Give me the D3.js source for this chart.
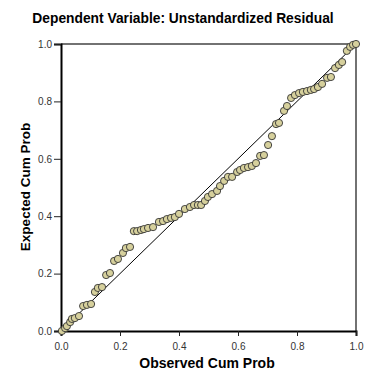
<!DOCTYPE html>
<html>
<head>
<meta charset="utf-8">
<script src="https://cdn.jsdelivr.net/npm/d3@7"></script>
<style>
  body { margin: 0; background: #fff; }
  text { font-family: "Liberation Sans", Arial, sans-serif; }
</style>
</head>
<body>
<svg id="chart" width="365" height="371"></svg>
<script>
const title = "Dependent Variable: Unstandardized Residual";
const xLabel = "Observed Cum Prob";
const yLabel = "Expected Cum Prob";
const ticks = [0, 0.2, 0.4, 0.6, 0.8, 1.0];

// observed / expected cumulative probabilities
const observed = [0.003, 0.014, 0.020, 0.031, 0.037, 0.047, 0.061, 0.075, 0.088, 0.102,
  0.115, 0.125, 0.139, 0.153, 0.166, 0.180, 0.193, 0.210, 0.220, 0.234,
  0.247, 0.258, 0.271, 0.281, 0.295, 0.312, 0.332, 0.346, 0.359, 0.373,
  0.386, 0.400, 0.420, 0.437, 0.451, 0.464, 0.475, 0.488, 0.498, 0.512,
  0.529, 0.539, 0.553, 0.566, 0.580, 0.597, 0.607, 0.620, 0.634, 0.647,
  0.661, 0.675, 0.688, 0.702, 0.715, 0.729, 0.739, 0.756, 0.766, 0.780,
  0.793, 0.807, 0.820, 0.834, 0.847, 0.858, 0.871, 0.885, 0.902, 0.915,
  0.929, 0.942, 0.953, 0.969, 0.980, 0.990, 1.000];
const expected = [0.000, 0.010, 0.017, 0.031, 0.042, 0.045, 0.052, 0.087, 0.091, 0.094,
  0.136, 0.150, 0.153, 0.195, 0.202, 0.244, 0.251, 0.272, 0.289, 0.293,
  0.348, 0.348, 0.352, 0.355, 0.359, 0.362, 0.380, 0.383, 0.390, 0.394,
  0.397, 0.408, 0.425, 0.432, 0.439, 0.439, 0.439, 0.453, 0.467, 0.477,
  0.488, 0.505, 0.523, 0.537, 0.537, 0.554, 0.561, 0.568, 0.571, 0.575,
  0.585, 0.610, 0.613, 0.648, 0.679, 0.721, 0.725, 0.767, 0.784, 0.812,
  0.822, 0.829, 0.833, 0.836, 0.840, 0.843, 0.850, 0.861, 0.882, 0.885,
  0.916, 0.927, 0.937, 0.976, 0.990, 0.997, 1.000];

const plotLeft = 61, plotRight = 356, plotTop = 44, plotBottom = 331;
const svg = d3.select("#chart");

const x = d3.scaleLinear().domain([0, 1]).range([plotLeft, plotRight]);
const y = d3.scaleLinear().domain([0, 1]).range([plotBottom, plotTop]);

// title
svg.append("text")
  .attr("x", 183).attr("y", 23)
  .attr("text-anchor", "middle")
  .style("font-size", "13.8px").style("font-weight", "bold")
  .text(title);

// frame top/right
svg.append("path")
  .attr("d", `M${plotLeft},${plotTop}H${plotRight}V${plotBottom}`)
  .attr("fill", "none").attr("stroke", "#444").attr("stroke-width", 1.5);

// axes
const xAxis = svg.append("g")
  .attr("transform", "translate(0," + plotBottom + ")")
  .call(d3.axisBottom(x).tickValues(ticks).tickFormat(d3.format(".1f")).tickSize(5).tickPadding(7));
const yAxis = svg.append("g")
  .attr("transform", "translate(" + plotLeft + ",0)")
  .call(d3.axisLeft(y).tickValues(ticks).tickFormat(d3.format(".1f")).tickSize(7).tickPadding(2));

[xAxis, yAxis].forEach(g => {
  g.select(".domain").attr("stroke", "#000").attr("stroke-width", 2);
  g.selectAll(".tick line").attr("stroke", "#222").attr("stroke-width", 1);
  g.selectAll(".tick text")
    .style("font-family", "'Liberation Sans', Arial, sans-serif")
    .style("font-size", "10px").attr("fill", "#333");
});

// reference diagonal
svg.append("line")
  .attr("x1", x(0)).attr("y1", y(0))
  .attr("x2", x(1)).attr("y2", y(1))
  .attr("stroke", "#000").attr("stroke-width", 1);

// points
svg.selectAll("circle.pt")
  .data(observed.map((v, i) => [v, expected[i]]))
  .enter()
  .append("circle")
  .attr("class", "pt")
  .attr("cx", d => x(d[0]))
  .attr("cy", d => y(d[1]))
  .attr("r", 3.6)
  .attr("fill", "#d6d09c")
  .attr("stroke", "#333")
  .attr("stroke-width", 0.9);

// axis labels
svg.append("text")
  .attr("x", 207).attr("y", 368)
  .attr("text-anchor", "middle")
  .style("font-size", "14px").style("font-weight", "bold")
  .text(xLabel);

svg.append("text")
  .attr("transform", "translate(30,187) rotate(-90)")
  .attr("text-anchor", "middle")
  .style("font-size", "13.5px").style("font-weight", "bold")
  .text(yLabel);
</script>
</body>
</html>
